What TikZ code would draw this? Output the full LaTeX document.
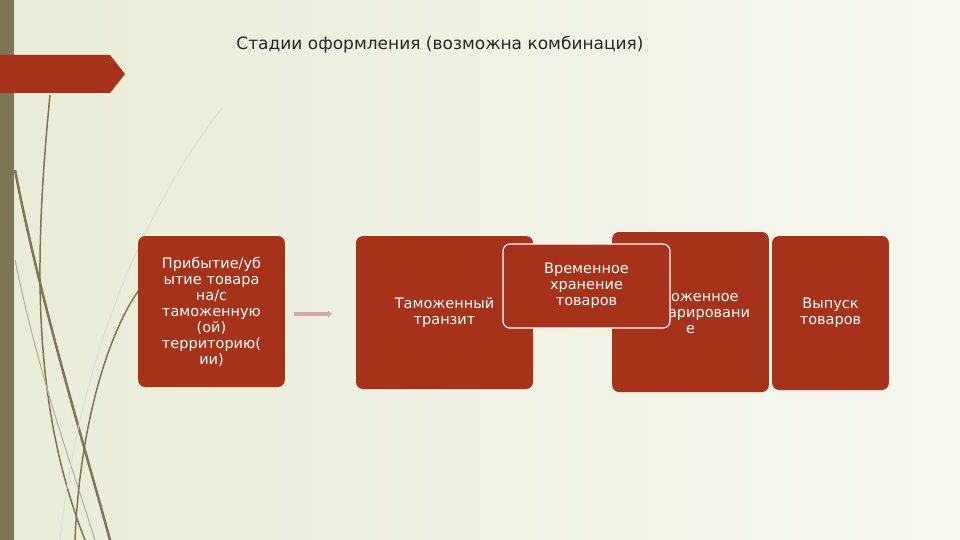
\documentclass[tikz,border=0pt]{standalone}
\usepackage{fontspec}
\setmainfont{DejaVu Sans}
\usetikzlibrary{arrows.meta}
\begin{document}
\begin{tikzpicture}[x=1pt,y=-1pt,
  box/.style={fill=rust,rounded corners=7pt,draw=none,text=white,align=center,font=\fontsize{14.5}{16}\selectfont},
  stem/.style={draw=olive2,line width=2pt}]
\definecolor{rust}{HTML}{A6321A}
\definecolor{olive2}{HTML}{7D7556}
\definecolor{bgA}{HTML}{E9ECD6}
\definecolor{bgB}{HTML}{F7F7F0}
\definecolor{arr}{HTML}{D4A8A6}
\useasboundingbox (0,0) rectangle (960,540);
\shade[left color=bgA,right color=bgB] (0,0) rectangle (960,540);
% decorative stems
\draw[stem,line width=1.5pt] (50,95) .. controls (35,250) and (30,400) .. (85,540);
\draw[stem,line width=2.5pt] (15,170) .. controls (40,300) and (80,430) .. (110,540);
\draw[stem,line width=1pt,draw=olive2!60] (15,260) .. controls (40,380) and (70,460) .. (95,540);
\draw[stem,line width=1.5pt] (139,290) .. controls (110,330) and (80,420) .. (75,540);
\draw[draw=olive2!25,line width=1pt] (222,108) .. controls (150,200) and (80,350) .. (60,540);
% left bar and tab
\fill[olive2] (0,0) rectangle (14,540);
\fill[rust] (0,55) -- (110,55) -- (125,74) -- (110,93) -- (0,93) -- cycle;
\node[anchor=center,font=\fontsize{17}{19}\selectfont,text=black!85] (title) at (440,45) {Стадии оформления (возможна комбинация)};
% boxes
\node[box,minimum width=145pt,minimum height=151pt,text width=140pt] (b1) at (211.5,311.5) {Прибытие/уб\\ытие товара\\на/с\\таможенную\\(ой)\\территорию(\\ии)};
\node[box,minimum width=177pt,minimum height=153pt,text width=160pt] (b2) at (444.5,312.5) {Таможенный\\транзит};
\node[box,minimum width=153pt,minimum height=160pt,text width=150pt] (b4) at (690.5,312) {Таможенное\\декларировани\\е};
\node[box,minimum width=115pt,minimum height=154pt,text width=110pt] (b5) at (830.5,313) {Выпуск\\товаров};
\node[box,draw=white,line width=1.2pt,minimum width=167pt,minimum height=84pt,text width=160pt] (b3) at (586.5,286) {Временное\\хранение\\товаров};
\coordinate (a1) at (294,314);
\coordinate (a2) at (332,314);
\draw[line width=4pt,draw=arr,-{Latex[length=4pt,width=8pt]}] (a1) -- (a2);
\end{tikzpicture}
\end{document}
